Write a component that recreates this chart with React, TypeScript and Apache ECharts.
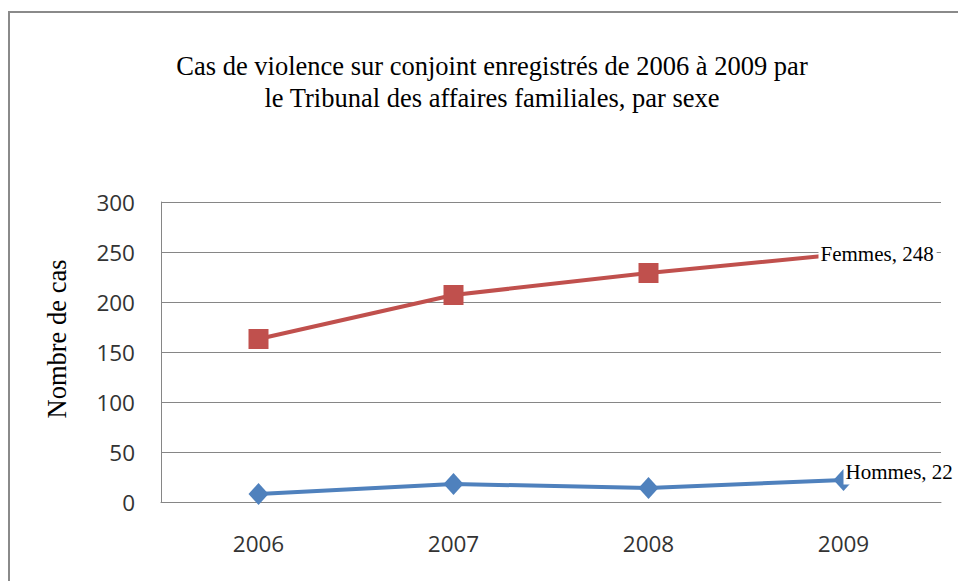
import React, { useEffect, useRef } from "react";
import * as echarts from "echarts";

const years = ["2006", "2007", "2008", "2009"];
const femmes = [163, 207, 229, 248];
const hommes = [8, 18, 14, 22];
const yTicks = [0, 50, 100, 150, 200, 250, 300];

const titleText =
  "Cas de violence sur conjoint enregistrés de 2006 à 2009 par\nle Tribunal des affaires familiales, par sexe";
const yAxisTitle = "Nombre de cas";

export default function App() {
  const ref = useRef<HTMLDivElement>(null);
  useEffect(() => {
    document.body.style.margin = "0";
    const chart = echarts.init(ref.current!, null, { renderer: "svg" });
    const last = years.length - 1;
    chart.setOption({
      animation: false,
      backgroundColor: "#fff",
      title: {
        text: titleText,
        left: 487,
        top: 45,
        textAlign: "center",
        textStyle: {
          fontFamily: "Liberation Serif",
          fontSize: 26.5,
          fontWeight: "normal",
          lineHeight: 32,
          color: "#000",
        },
      },
      graphic: [
        {
          type: "rect",
          shape: { x: 9, y: 12, width: 1200, height: 1000 },
          style: { fill: "none", stroke: "#8a8a8a", lineWidth: 2 },
          silent: true,
        },
        {
          type: "text",
          x: 57,
          y: 339,
          rotation: Math.PI / 2,
          style: {
            text: yAxisTitle,
            fontFamily: "Liberation Serif",
            fontSize: 26.5,
            fill: "#000",
            align: "center",
            verticalAlign: "middle",
          },
        },
      ],
      grid: { left: 161, top: 202, right: 17, bottom: 79, containLabel: false },
      xAxis: {
        type: "category",
        data: years,
        boundaryGap: true,
        axisLine: { show: true, lineStyle: { color: "#868686", width: 1 } },
        axisTick: { show: false },
        axisLabel: {
          margin: 30,
          fontFamily: "Open Sans",
          fontSize: 22.5,
          color: "#333",
        },
        splitLine: { show: false },
      },
      yAxis: {
        type: "value",
        min: yTicks[0],
        max: yTicks[yTicks.length - 1],
        interval: 50,
        axisLine: { show: true, lineStyle: { color: "#868686", width: 1 } },
        axisTick: { show: false },
        axisLabel: {
          margin: 26,
          fontFamily: "Open Sans",
          fontSize: 22.5,
          color: "#333",
        },
        splitLine: { show: true, lineStyle: { color: "#868686", width: 1 } },
      },
      series: [
        {
          name: "Femmes",
          type: "line",
          data: femmes.map((v, i) =>
            i === last
              ? {
                  value: v,
                  label: {
                    show: true,
                    position: "right",
                    distance: 0,
                    offset: [-35, 0],
                    formatter: "{a}, {c}",
                    fontFamily: "Liberation Serif",
                    fontSize: 21,
                    color: "#000",
                    backgroundColor: "#fff",
                    padding: [2, 3, 2, 2],
                  },
                }
              : v
          ),
          symbol: "rect",
          symbolSize: 20,
          lineStyle: { color: "#C0504D", width: 4 },
          itemStyle: { color: "#C0504D" },
          z: 3,
        },
        {
          name: "Hommes",
          type: "line",
          data: hommes.map((v, i) =>
            i === last
              ? {
                  value: v,
                  label: {
                    show: true,
                    position: "right",
                    distance: 0,
                    offset: [-10, -8],
                    formatter: "{a}, {c}",
                    fontFamily: "Liberation Serif",
                    fontSize: 21,
                    color: "#000",
                    backgroundColor: "#fff",
                    padding: [2, 3, 2, 2],
                  },
                }
              : v
          ),
          symbol: "diamond",
          symbolSize: [20, 22],
          lineStyle: { color: "#4F81BD", width: 4 },
          itemStyle: { color: "#4F81BD" },
          z: 3,
        },
      ],
    });
    return () => chart.dispose();
  }, []);
  return <div ref={ref} style={{ width: 958, height: 581 }} />;
}
